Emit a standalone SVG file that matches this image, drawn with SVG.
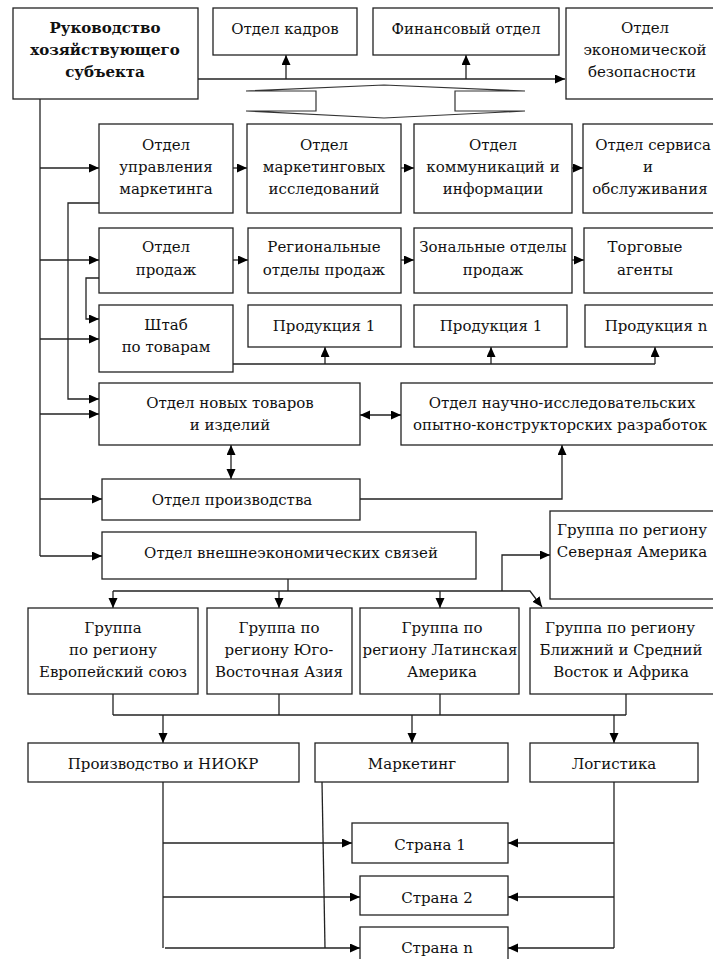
<svg xmlns="http://www.w3.org/2000/svg" width="713" height="959" viewBox="0 0 713 959">
<defs>
<marker id="ah" markerUnits="userSpaceOnUse" markerWidth="11" markerHeight="10" refX="10" refY="4.5" orient="auto-start-reverse">
<path d="M0,0 L10,4.5 L0,9 z" fill="#000"/>
</marker>
<style>
rect{fill:#fff;stroke:#222;stroke-width:1.3}
text{font-family:"DejaVu Serif","Liberation Serif",serif;font-size:15px;fill:#111;text-anchor:middle}
.b{font-weight:bold}
#connectors path,#connectors line,#connectors polyline{fill:none;stroke:#222;stroke-width:1.3}
.a{marker-end:url(#ah)}
.d{marker-start:url(#ah);marker-end:url(#ah)}
</style>
</defs>
<rect x="0" y="0" width="713" height="959" style="fill:#fff;stroke:none"/>

<g id="connectors">
<line x1="198" y1="79" x2="565" y2="79" class="a"/>
<line x1="286" y1="79" x2="286" y2="55" class="a"/>
<line x1="466" y1="79" x2="466" y2="55" class="a"/>
<polygon points="384,85 525,91 455,91 455,111 525,111 384,118 246,111 316,111 316,91 246,91" style="fill:#fff;stroke:#333;stroke-width:1.2"/>
<line x1="40" y1="99" x2="40" y2="556"/>
<line x1="40" y1="168" x2="99" y2="168" class="a"/>
<line x1="40" y1="260" x2="99" y2="260" class="a"/>
<line x1="40" y1="339" x2="99" y2="339" class="a"/>
<line x1="40" y1="414" x2="99" y2="414" class="a"/>
<line x1="40" y1="499" x2="102" y2="499" class="a"/>
<line x1="40" y1="556" x2="102" y2="556" class="a"/>
<line x1="233" y1="168" x2="247" y2="168" class="a"/>
<line x1="401" y1="168" x2="414" y2="168" class="a"/>
<line x1="572" y1="168" x2="583" y2="168" class="a"/>
<line x1="233" y1="260" x2="248" y2="260" class="a"/>
<line x1="401" y1="260" x2="414" y2="260" class="a"/>
<line x1="572" y1="260" x2="584" y2="260" class="a"/>
<polyline points="99,203 68,203 68,399 99,399" class="a"/>
<polyline points="99,278 86,278 86,319 99,319" class="a"/>
<line x1="233" y1="364" x2="655" y2="364"/>
<line x1="325" y1="364" x2="325" y2="347" class="a"/>
<line x1="491" y1="364" x2="491" y2="347" class="a"/>
<line x1="655" y1="364" x2="655" y2="347" class="a"/>
<line x1="360" y1="415" x2="401" y2="415" class="d"/>
<line x1="231" y1="445" x2="231" y2="479" class="d"/>
<polyline points="360,499 562,499 562,445" class="a"/>
<line x1="288" y1="579" x2="288" y2="591"/>
<polyline points="113,591 530,591 542,607" class="a"/>
<line x1="113" y1="591" x2="113" y2="608" class="a"/>
<line x1="279" y1="591" x2="279" y2="608" class="a"/>
<line x1="440" y1="591" x2="440" y2="608" class="a"/>
<polyline points="502,591 502,555 550,555" class="a"/>
<line x1="113" y1="694" x2="113" y2="715"/>
<line x1="279" y1="694" x2="279" y2="715"/>
<line x1="440" y1="694" x2="440" y2="715"/>
<line x1="626" y1="694" x2="626" y2="715"/>
<line x1="113" y1="715" x2="626" y2="715"/>
<line x1="163" y1="715" x2="163" y2="743" class="a"/>
<line x1="412" y1="715" x2="412" y2="743" class="a"/>
<line x1="614" y1="715" x2="614" y2="743" class="a"/>
<line x1="163" y1="782" x2="163" y2="948"/>
<line x1="163" y1="843" x2="352" y2="843" class="a"/>
<line x1="163" y1="897" x2="360" y2="897" class="a"/>
<line x1="165" y1="948" x2="360" y2="948" class="a"/>
<line x1="322" y1="782" x2="325" y2="948"/>
<line x1="614" y1="782" x2="614" y2="948"/>
<line x1="614" y1="843" x2="508" y2="843" class="a"/>
<line x1="614" y1="897" x2="508" y2="897" class="a"/>
<line x1="614" y1="948" x2="508" y2="948" class="a"/>
</g>

<g id="n-head"><rect x="13" y="8" width="185" height="91"/>
<text class="b" x="105" y="33">Руководство</text><text class="b" x="105" y="55">хозяйствующего</text><text class="b" x="105" y="77">субъекта</text></g>
<g id="n-kadry"><rect x="213" y="8" width="144" height="47"/><text x="285" y="34">Отдел кадров</text></g>
<g id="n-fin"><rect x="373" y="8" width="186" height="47"/><text x="466" y="34">Финансовый отдел</text></g>
<g id="n-econsec"><rect x="566" y="8" width="160" height="91"/>
<text x="645" y="33">Отдел</text><text x="645" y="55">экономической</text><text x="642" y="77">безопасности</text></g>

<g id="n-mkt"><rect x="99" y="124" width="134" height="89"/>
<text x="166" y="150">Отдел</text><text x="166" y="172">управления</text><text x="166" y="194">маркетинга</text></g>
<g id="n-mktres"><rect x="247" y="124" width="154" height="89"/>
<text x="324" y="150">Отдел</text><text x="324" y="172">маркетинговых</text><text x="324" y="194">исследований</text></g>
<g id="n-comm"><rect x="414" y="124" width="158" height="89"/>
<text x="493" y="150">Отдел</text><text x="493" y="172">коммуникаций и</text><text x="493" y="194">информации</text></g>
<g id="n-serv"><rect x="583" y="124" width="150" height="89"/>
<text x="653" y="150">Отдел сервиса</text><text x="648" y="172">и</text><text x="650" y="194">обслуживания</text></g>

<g id="n-sales"><rect x="99" y="228" width="134" height="65"/>
<text x="166" y="252">Отдел</text><text x="166" y="275">продаж</text></g>
<g id="n-regsales"><rect x="248" y="228" width="153" height="65"/>
<text x="324" y="252">Региональные</text><text x="324" y="275">отделы продаж</text></g>
<g id="n-zonsales"><rect x="414" y="228" width="158" height="65"/>
<text x="493" y="252">Зональные отделы</text><text x="493" y="275">продаж</text></g>
<g id="n-agents"><rect x="584" y="228" width="150" height="65"/>
<text x="645" y="252">Торговые</text><text x="645" y="275">агенты</text></g>

<g id="n-shtab"><rect x="99" y="305" width="134" height="67"/>
<text x="166" y="330">Штаб</text><text x="166" y="352">по товарам</text></g>
<g id="n-prod1"><rect x="248" y="305" width="153" height="42"/><text x="324" y="331">Продукция 1</text></g>
<g id="n-prod2"><rect x="414" y="305" width="153" height="42"/><text x="491" y="331">Продукция 1</text></g>
<g id="n-prodn"><rect x="585" y="305" width="150" height="42"/><text x="656" y="331">Продукция n</text></g>

<g id="n-newprod"><rect x="99" y="383" width="261" height="62"/>
<text x="230" y="408">Отдел новых товаров</text><text x="230" y="430">и изделий</text></g>
<g id="n-niokr"><rect x="401" y="383" width="330" height="62"/>
<text x="562" y="408">Отдел научно-исследовательских</text><text x="560" y="430">опытно-конструкторских разработок</text></g>

<g id="n-production"><rect x="102" y="479" width="258" height="41"/><text x="232" y="505">Отдел производства</text></g>
<g id="n-foreign"><rect x="102" y="532" width="374" height="47"/><text x="291" y="558">Отдел внешнеэкономических связей</text></g>
<g id="n-na"><rect x="550" y="511" width="180" height="88"/>
<text x="632" y="535">Группа по региону</text><text x="632" y="557">Северная Америка</text></g>

<g id="n-eu"><rect x="28" y="608" width="170" height="86"/>
<text x="113" y="633">Группа</text><text x="113" y="655">по региону</text><text x="113" y="677">Европейский союз</text></g>
<g id="n-sea"><rect x="207" y="608" width="145" height="86"/>
<text x="279" y="633">Группа по</text><text x="279" y="655">региону Юго-</text><text x="279" y="677">Восточная Азия</text></g>
<g id="n-la"><rect x="360" y="608" width="159" height="86"/>
<text x="442" y="633">Группа по</text><text x="440" y="655">региону Латинская</text><text x="442" y="677">Америка</text></g>
<g id="n-me"><rect x="530" y="608" width="200" height="86"/>
<text x="620" y="633">Группа по региону</text><text x="621" y="655">Ближний и Средний</text><text x="621" y="677">Восток и Африка</text></g>

<g id="n-rnd"><rect x="28" y="743" width="271" height="39"/><text x="163" y="769">Производство и НИОКР</text></g>
<g id="n-marketing"><rect x="315" y="743" width="193" height="39"/><text x="412" y="769">Маркетинг</text></g>
<g id="n-logistics"><rect x="530" y="743" width="168" height="39"/><text x="614" y="769">Логистика</text></g>

<g id="n-c1"><rect x="352" y="823" width="156" height="40"/><text x="430" y="850">Страна 1</text></g>
<g id="n-c2"><rect x="360" y="876" width="148" height="39"/><text x="437" y="903">Страна 2</text></g>
<g id="n-cn"><rect x="360" y="927" width="148" height="40"/><text x="437" y="953">Страна n</text></g>
</svg>
